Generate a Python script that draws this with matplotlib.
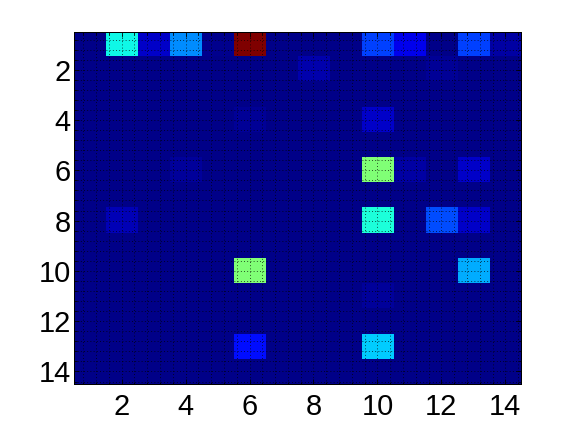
import numpy as np
import matplotlib
matplotlib.use('Agg')
import matplotlib.pyplot as plt
from matplotlib.ticker import MultipleLocator

# matrix size (rows x cols), 1-based like the original
n_rows = 14
n_cols = 14
background = 0.011

# nonzero cells: (row, col, value)
cell_rows = [1, 1, 1, 1, 1, 1, 1, 1, 1,
             2, 2,
             4, 4,
             6, 6, 6, 6,
             8, 8, 8, 8,
             10, 10,
             11,
             13, 13]
cell_cols = [2, 3, 4, 6, 10, 11, 13, 14, 5,
             8, 12,
             6, 10,
             4, 10, 11, 13,
             2, 10, 12, 13,
             6, 13,
             10,
             6, 10]
cell_vals = [0.37, 0.066, 0.265, 1.0, 0.1875, 0.095, 0.1875, 0.033, 0.015,
             0.04, 0.022,
             0.022, 0.066,
             0.026, 0.505, 0.033, 0.066,
             0.05, 0.385, 0.2, 0.066,
             0.505, 0.295,
             0.026,
             0.14, 0.325]

x_ticks = [2, 4, 6, 8, 10, 12, 14]
y_ticks = [2, 4, 6, 8, 10, 12, 14]

# Build matrix
data = np.full((n_rows, n_cols), background)
for r, c, v in zip(cell_rows, cell_cols, cell_vals):
    data[r - 1, c - 1] = v

plt.rcParams['font.family'] = ['Liberation Sans', 'DejaVu Sans']

fig = plt.figure(figsize=(8, 6), dpi=72)
ax = fig.add_axes([0.128, 0.111, 0.777, 0.815])

ax.imshow(data, cmap='jet', vmin=0, vmax=1, interpolation='nearest',
          extent=(0.5, n_cols + 0.5, n_rows + 0.5, 0.5), aspect='auto')

ax.set_xlim(0.5, n_cols + 0.5)
ax.set_ylim(n_rows + 0.5, 0.5)
ax.set_xticks(x_ticks)
ax.set_yticks(y_ticks)
ax.xaxis.set_minor_locator(MultipleLocator(0.4))
ax.yaxis.set_minor_locator(MultipleLocator(0.4))

# MATLAB-like grid on + grid minor
ax.grid(True, which='both', color='black', linestyle=(0, (1, 3)), linewidth=0.8)
ax.set_axisbelow(False)

ax.tick_params(which='both', direction='in', top=True, right=True, labelsize=29, width=0.8)
ax.tick_params(which='major', length=5)
ax.tick_params(which='minor', length=2.5)
ax.tick_params(axis='x', pad=9)
ax.tick_params(axis='y', pad=3)
for s in ax.spines.values():
    s.set_linewidth(1)

fig.savefig('out.png', dpi=72)
